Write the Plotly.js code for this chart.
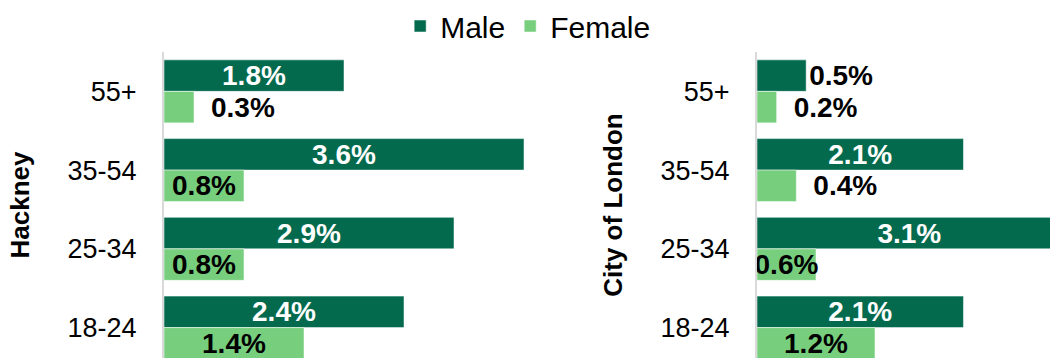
<!DOCTYPE html>
<html>
<head>
<meta charset="utf-8">
<script src="https://cdn.plot.ly/plotly-3.0.1.min.js"></script>
<style>
  html, body { margin: 0; padding: 0; background: #fff; }
  #chart { width: 1050px; height: 358px; }
</style>
</head>
<body>
<div id="chart"></div>
<script>
// Share of residents by age group and sex, two boroughs
const ageGroups = ['55+', '35-54', '25-34', '18-24'];
const hackneyMale = [1.8, 3.6, 2.9, 2.4];
const hackneyFemale = [0.3, 0.8, 0.8, 1.4];
const cityMale = [0.5, 2.1, 3.1, 2.1];
const cityFemale = [0.2, 0.4, 0.6, 1.2];

const MALE = '#046A4E';
const FEMALE = '#77CF7E';
const FONT = '"Liberation Sans", Arial, sans-serif';
const LABEL_SIZE = 28;
const EN_SPACE = '\u2002';

// Short bars get their label outside the bar end
const placeFor = vals => vals.map(v => (v >= 0.6 ? 'inside' : 'outside'));
// Outside labels can be pushed a little further from the bar end
const labelsFor = (vals, gap) =>
  vals.map(v => (v >= 0.6 ? '' : gap) + v.toFixed(1) + '%');

function barTrace(name, vals, color, insideColor, xa, ya, showLegend, gap) {
  return {
    type: 'bar',
    orientation: 'h',
    name: name,
    y: ageGroups,
    x: vals,
    xaxis: xa,
    yaxis: ya,
    legendgroup: name,
    showlegend: showLegend,
    marker: { color: color, line: { color: 'rgba(255,255,255,0.5)', width: 1 } },
    text: labelsFor(vals, gap),
    textposition: placeFor(vals),
    insidetextanchor: 'middle',
    textangle: 0,
    constraintext: 'none',
    insidetextfont: { family: FONT, size: LABEL_SIZE, color: insideColor, weight: 'bold' },
    outsidetextfont: { family: FONT, size: LABEL_SIZE, color: '#000000', weight: 'bold' },
    hoverinfo: 'skip'
  };
}

const data = [
  barTrace('Male', hackneyMale, MALE, '#ffffff', 'x', 'y', true, ''),
  barTrace('Female', hackneyFemale, FEMALE, '#000000', 'x', 'y', true, EN_SPACE),
  barTrace('Male', cityMale, MALE, '#ffffff', 'x2', 'y2', false, ''),
  barTrace('Female', cityFemale, FEMALE, '#000000', 'x2', 'y2', false, EN_SPACE)
];

const yCommon = {
  type: 'category',
  categoryorder: 'array',
  categoryarray: ageGroups,
  range: [3.386, -0.5],
  showline: true,
  linecolor: '#d9d9d9',
  linewidth: 2,
  showgrid: false,
  zeroline: false,
  ticks: '',
  ticklabelstandoff: 20,
  tickfont: { family: FONT, size: 27, color: '#000000' },
  fixedrange: true
};

const xCommon = {
  showgrid: false,
  zeroline: false,
  showline: false,
  showticklabels: false,
  ticks: '',
  fixedrange: true
};

const layout = {
  width: 1050,
  height: 358,
  margin: { l: 0, r: 0, t: 51, b: 0, pad: 0 },
  paper_bgcolor: '#ffffff',
  plot_bgcolor: '#ffffff',
  barmode: 'group',
  bargap: 0.2,
  bargroupgap: 0,
  font: { family: FONT, color: '#000000' },
  showlegend: true,
  legend: {
    orientation: 'h',
    x: 0.503,
    xanchor: 'center',
    y: 1,
    yanchor: 'top',
    yref: 'container',
    font: { family: FONT, size: 30, color: '#000000' },
    itemclick: false,
    itemdoubleclick: false
  },
  xaxis: Object.assign({}, xCommon, { domain: [164 / 1050, 564 / 1050], range: [0, 4] }),
  xaxis2: Object.assign({}, xCommon, { domain: [757 / 1050, 1], range: [0, 2.98] }),
  yaxis: Object.assign({}, yCommon, {
    anchor: 'x',
    title: { text: 'Hackney', standoff: 30, font: { family: FONT, size: 26, weight: 'bold' } }
  }),
  yaxis2: Object.assign({}, yCommon, {
    anchor: 'x2',
    title: { text: 'City of London', standoff: 30, font: { family: FONT, size: 26, weight: 'bold' } }
  })
};

Plotly.newPlot('chart', data, layout, { staticPlot: true, displayModeBar: false });
</script>
</body>
</html>
